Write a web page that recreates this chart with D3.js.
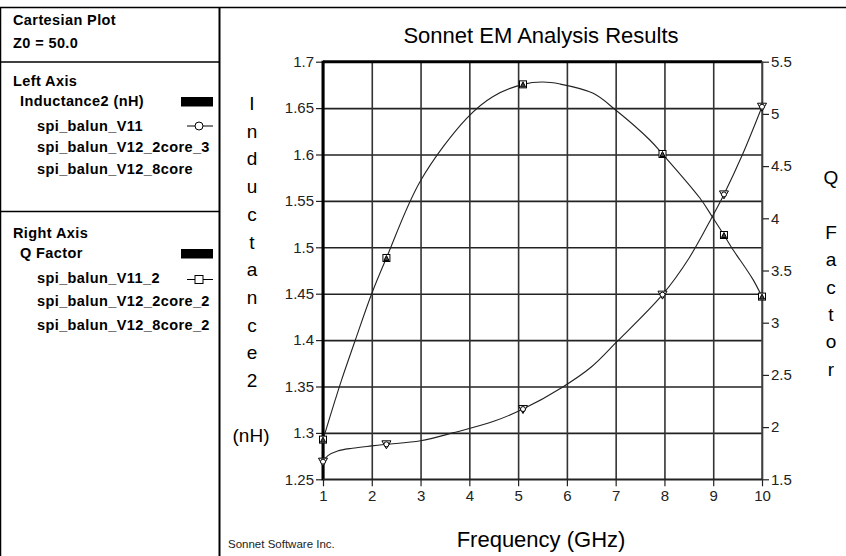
<!DOCTYPE html>
<html><head><meta charset="utf-8">
<script src="https://cdn.jsdelivr.net/npm/d3@7"></script>
<style>
html,body{margin:0;padding:0;background:#fff;}
svg{display:block;font-family:"Liberation Sans",Arial,sans-serif;}
</style></head>
<body>
<svg id="chart" width="846" height="556"></svg>
<script>
// ---- data ----
const title = "Sonnet EM Analysis Results";
const xLabel = "Frequency (GHz)";
const leftLabel = "Inductance2";
const leftUnit = "(nH)";
const rightLabel = "Q Factor";
const credit = "Sonnet Software Inc.";

const xTicks = [1,2,3,4,5,6,7,8,9,10];
const leftTicks = [1.25,1.3,1.35,1.4,1.45,1.5,1.55,1.6,1.65,1.7];
const leftTickLabels = ["1.25","1.3","1.35","1.4","1.45","1.5","1.55","1.6","1.65","1.7"];
const rightTicks = [1.5,2,2.5,3,3.5,4,4.5,5,5.5];
const rightTickLabels = ["1.5","2","2.5","3","3.5","4","4.5","5","5.5"];

// Inductance2 (nH), left axis
const lFreq = [1, 1.1, 1.3, 1.6, 2.0, 2.3, 3.0, 3.66, 4.5, 5.1, 5.9, 6.5, 7.02, 7.96, 8.5, 8.98, 9.22, 9.6, 10];
const lVals = [1.269, 1.2755, 1.2805, 1.2835, 1.286, 1.2877, 1.2915, 1.300, 1.3125, 1.3257, 1.349, 1.371, 1.398, 1.449, 1.488, 1.533, 1.557, 1.600, 1.6515];
// Q Factor, right axis
const qFreq = [1, 1.25, 1.38, 1.66, 2.0, 2.3, 3.0, 3.95, 4.48, 5.1, 5.5, 5.86, 6.54, 7.0, 7.7, 7.96, 8.73, 8.98, 9.22, 9.41, 9.55, 9.69, 9.82, 10];
const qVals = [1.88, 2.26, 2.45, 2.83, 3.28, 3.62, 4.36, 4.96, 5.165, 5.283, 5.305, 5.286, 5.197, 5.037, 4.75, 4.616, 4.192, 4.015, 3.84, 3.696, 3.60, 3.505, 3.41, 3.25];
// frequencies carrying markers
const markerFreqs = [1, 2.3, 5.1, 7.96, 9.22, 10];

const legendHeader = ["Cartesian Plot", "Z0 = 50.0"];
const leftGroup = {title:"Left Axis", param:"Inductance2 (nH)", series:["spi_balun_V11","spi_balun_V12_2core_3","spi_balun_V12_8core"]};
const rightGroup = {title:"Right Axis", param:"Q Factor", series:["spi_balun_V11_2","spi_balun_V12_2core_2","spi_balun_V12_8core_2"]};

// ---- drawing ----
const svg = d3.select("#chart");
const P = {l:323, r:762, t:61.7, b:479.3};
const x = d3.scaleLinear().domain([1,10]).range([P.l,P.r]);
const yL = d3.scaleLinear().domain([1.25,1.7]).range([P.b,P.t]);
const yR = d3.scaleLinear().domain([1.5,5.5]).range([P.b,P.t]);

// frame lines
svg.append("line").attr("x1",0).attr("x2",846).attr("y1",7.5).attr("y2",7.5).attr("stroke","#000").attr("stroke-width",1.5);
svg.append("line").attr("x1",0.5).attr("x2",0.5).attr("y1",7).attr("y2",556).attr("stroke","#000").attr("stroke-width",1.5);
svg.append("line").attr("x1",219.5).attr("x2",219.5).attr("y1",7).attr("y2",556).attr("stroke","#000").attr("stroke-width",2);
svg.append("line").attr("x1",0).attr("x2",219).attr("y1",62).attr("y2",62).attr("stroke","#000").attr("stroke-width",1.3);
svg.append("line").attr("x1",0).attr("x2",219).attr("y1",211.5).attr("y2",211.5).attr("stroke","#000").attr("stroke-width",1.3);

// legend panel
const lg = svg.append("g").attr("font-weight","bold").attr("font-size","14.5px").attr("letter-spacing","0.4px").attr("fill","#000");
lg.append("text").attr("x",13).attr("y",25).text(legendHeader[0]);
lg.append("text").attr("x",13).attr("y",48).text(legendHeader[1]);
function legendGroup(g, top, gap){
  lg.append("text").attr("x",13).attr("y",top).text(g.title);
  lg.append("text").attr("x",20).attr("y",top+20).text(g.param);
  lg.append("rect").attr("x",181).attr("y",top+11).attr("width",32).attr("height",9.5).attr("fill","#000");
  g.series.forEach((s,i)=>{
    lg.append("text").attr("x",37).attr("y",top+45+i*gap).text(s);
  });
}
legendGroup(leftGroup, 86, 21.3);
legendGroup(rightGroup, 238, 23.3);
// legend markers
svg.append("line").attr("x1",187).attr("x2",213).attr("y1",126).attr("y2",126).attr("stroke","#000");
svg.append("circle").attr("cx",199).attr("cy",126).attr("r",4).attr("fill","#fff").attr("stroke","#000");
svg.append("line").attr("x1",187).attr("x2",213).attr("y1",279.5).attr("y2",279.5).attr("stroke","#000");
svg.append("rect").attr("x",195).attr("y",275.5).attr("width",8).attr("height",8).attr("fill","#fff").attr("stroke","#000");

// gridlines
const grid = svg.append("g");
grid.append("g").attr("transform",`translate(${P.l},0)`)
  .call(d3.axisLeft(yL).tickValues(leftTicks).tickSize(-(P.r-P.l)).tickFormat(""))
  .call(g=>g.select(".domain").remove())
  .call(g=>g.selectAll("line").attr("stroke","#222").attr("stroke-width",1.6));
grid.append("g").attr("transform",`translate(0,${P.b})`)
  .call(d3.axisBottom(x).tickValues(xTicks).tickSize(-(P.b-P.t)).tickFormat(""))
  .call(g=>g.select(".domain").remove())
  .call(g=>g.selectAll("line").attr("stroke","#333").attr("stroke-width",1.6));

// axes
const tickFont = g=>g.selectAll("text").attr("font-size","15px").attr("fill","#222").attr("font-family","'Liberation Sans',Arial,sans-serif");
svg.append("g").attr("transform",`translate(${P.l},0)`)
  .call(d3.axisLeft(yL).tickValues(leftTicks).tickSize(7).tickPadding(2).tickFormat((d,i)=>leftTickLabels[i]))
  .call(g=>g.select(".domain").remove())
  .call(g=>g.selectAll("line").attr("stroke","#222").attr("stroke-width",1.2))
  .call(tickFont);
svg.append("g").attr("transform",`translate(${P.r},0)`)
  .call(d3.axisRight(yR).tickValues(rightTicks).tickSize(7).tickPadding(2).tickFormat((d,i)=>rightTickLabels[i]))
  .call(g=>g.select(".domain").remove())
  .call(g=>g.selectAll("line").attr("stroke","#222").attr("stroke-width",1.2))
  .call(tickFont);
svg.append("g").attr("transform",`translate(0,${P.b})`)
  .call(d3.axisBottom(x).tickValues(xTicks).tickSize(7).tickPadding(4).tickFormat(d=>String(d)))
  .call(g=>g.select(".domain").remove())
  .call(g=>g.selectAll("line").attr("stroke","#222").attr("stroke-width",1.2))
  .call(tickFont);

// frame of plot
svg.append("line").attr("x1",P.l).attr("x2",P.l).attr("y1",P.t-1).attr("y2",P.b+1).attr("stroke","#000").attr("stroke-width",3);
svg.append("line").attr("x1",P.l).attr("x2",P.r).attr("y1",P.t).attr("y2",P.t).attr("stroke","#000").attr("stroke-width",3);
svg.append("line").attr("x1",P.r).attr("x2",P.r).attr("y1",P.t).attr("y2",P.b).attr("stroke","#444").attr("stroke-width",1.5);
svg.append("line").attr("x1",P.l).attr("x2",P.r).attr("y1",P.b).attr("y2",P.b).attr("stroke","#222").attr("stroke-width",1.6);

// curves
const lData = lFreq.map((f,i)=>({f, v:lVals[i]}));
const qData = qFreq.map((f,i)=>({f, v:qVals[i]}));
const lineL = d3.line().x(d=>x(d.f)).y(d=>yL(d.v)).curve(d3.curveCatmullRom.alpha(0.5));
const lineQ = d3.line().x(d=>x(d.f)).y(d=>yR(d.v)).curve(d3.curveCatmullRom.alpha(0.5));
svg.append("path").attr("d",lineL(lData)).attr("fill","none").attr("stroke","#222").attr("stroke-width",1.1);
svg.append("path").attr("d",lineQ(qData)).attr("fill","none").attr("stroke","#222").attr("stroke-width",1.1);

// markers
const lMarks = lData.filter(d=>markerFreqs.includes(d.f));
const qMarks = qData.filter(d=>markerFreqs.includes(d.f));
const mk = svg.append("g").attr("fill","#fff").attr("stroke","#000").attr("stroke-width",1);
lMarks.forEach(d=>{
  const cx=x(d.f), cy=yL(d.v);
  mk.append("path").attr("d",`M${cx-4.5},${cy-3.5}L${cx+4.5},${cy-3.5}L${cx},${cy+4.5}Z`);
  mk.append("circle").attr("cx",cx).attr("cy",cy).attr("r",2.5);
});
qMarks.forEach(d=>{
  const cx=x(d.f), cy=yR(d.v);
  mk.append("rect").attr("x",cx-3.5).attr("y",cy-3.5).attr("width",7).attr("height",7);
  mk.append("path").attr("d",`M${cx-2.5},${cy+2.5}L${cx},${cy-2.5}L${cx+2.5},${cy+2.5}Z`).attr("fill","#444");
});

// titles
svg.append("text").attr("x",541).attr("y",43).attr("text-anchor","middle").attr("font-size","22px").attr("fill","#000").text(title);
svg.append("text").attr("x",541).attr("y",547).attr("text-anchor","middle").attr("font-size","22px").attr("fill","#000").text(xLabel);
svg.append("text").attr("x",228).attr("y",548).attr("font-size","11.5px").attr("fill","#222").text(credit);

// vertical stacked axis titles
const vl = svg.append("g").attr("font-size","19px").attr("fill","#000").attr("text-anchor","middle");
leftLabel.split("").forEach((c,i)=>{
  vl.append("text").attr("x",252).attr("y",110+i*27.7).text(c);
});
vl.append("text").attr("x",251).attr("y",442).text(leftUnit);
rightLabel.split("").forEach((c,i)=>{
  vl.append("text").attr("x",831).attr("y",184+i*27.4).text(c);
});
</script>
</body></html>
